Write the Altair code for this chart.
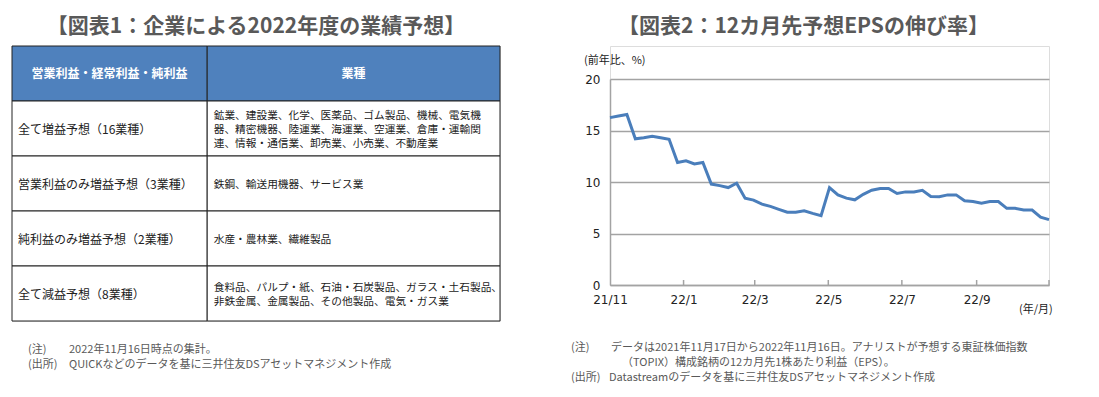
import altair as alt
import pandas as pd

FONT = "Noto Sans CJK JP"

# ---------------- Figure 1 : table ----------------
title1 = "【図表1：企業による2022年度の業績予想】"
row_ids = ["h", "r1", "r2", "r3", "r4"]
col1_texts = [
    "営業利益・経常利益・純利益",
    "全て増益予想（16業種）",
    "営業利益のみ増益予想（3業種）",
    "純利益のみ増益予想（2業種）",
    "全て減益予想（8業種）",
]
col2_texts = [
    "業種",
    "鉱業、建設業、化学、医薬品、ゴム製品、機械、電気機\n器、精密機器、陸運業、海運業、空運業、倉庫・運輸関\n連、情報・通信業、卸売業、小売業、不動産業",
    "鉄鋼、輸送用機器、サービス業",
    "水産・農林業、繊維製品",
    "食料品、パルプ・紙、石油・石炭製品、ガラス・土石製品、\n非鉄金属、金属製品、その他製品、電気・ガス業",
]
notes1 = [("(注)", "2022年11月16日時点の集計。"),
          ("(出所)", "QUICKなどのデータを基に三井住友DSアセットマネジメント作成")]

# ---------------- Figure 2 : line chart ----------------
title2 = "【図表2：12カ月先予想EPSの伸び率】"
start_date = "2021-11-17"
eps_growth = [
    16.25, 16.4, 16.55, 14.2, 14.3, 14.45, 14.3, 14.15, 11.9, 12.05,
    11.75, 11.9, 9.8, 9.65, 9.46, 9.88, 8.43, 8.24, 7.85, 7.63,
    7.35, 7.06, 7.06, 7.2, 6.95, 6.73, 9.46, 8.75, 8.43, 8.27,
    8.8, 9.2, 9.37, 9.37, 8.88, 9.04, 9.04, 9.2, 8.6, 8.56,
    8.75, 8.75, 8.17, 8.1, 7.95, 8.1, 8.1, 7.44, 7.44, 7.28,
    7.28, 6.58, 6.35,
]
label_dates = ["2021-11-17", "2022-01-17", "2022-03-17", "2022-05-17",
               "2022-07-17", "2022-09-17"]
tick_dates = ["2022-01-17", "2022-03-17", "2022-05-17", "2022-07-17",
              "2022-09-17", "2022-11-16"]
y_ticks = [0, 5, 10, 15, 20]
y_unit = "(前年比、%)"
x_unit = "(年/月)"
notes2 = [("(注)", "データは2021年11月17日から2022年11月16日。アナリストが予想する東証株価指数"),
          ("", "（TOPIX）構成銘柄の12カ月先1株あたり利益（EPS）。"),
          ("(出所)", "Datastreamのデータを基に三井住友DSアセットマネジメント作成")]

HEADER_BLUE = "#4F81BD"
LINE_BLUE = "#4A7EBB"
GRID = "#A3A3A3"
NOTE = "#595959"
LINE_H = 14


def dt(s):
    t = pd.Timestamp(s)
    return alt.DateTime(year=t.year, month=t.month, date=t.day)


def label(text, x, y, size=11, color=NOTE, align="left", weight="normal", font=FONT):
    return alt.Chart(pd.DataFrame({"t": [text]})).mark_text(
        align=align, baseline="middle", fontSize=size, color=color,
        fontWeight=weight, font=font
    ).encode(text="t:N", x=alt.value(x), y=alt.value(y))


# table data (columns in 2:3 width ratio)
cells = []
for i, r in enumerate(row_ids):
    cells.append({"row": r, "col": "c1", "text": col1_texts[i], "x0": 0, "x1": 2, "head": i == 0})
    cells.append({"row": r, "col": "c2", "text": col2_texts[i], "x0": 2, "x1": 5, "head": i == 0})
cells = pd.DataFrame(cells)
cells["xm"] = (cells["x0"] + cells["x1"]) / 2
cells["nlines"] = cells["text"].str.count("\n") + 1

xs = alt.Scale(domain=[0, 5], nice=False, zero=False)
ys = alt.Scale(domain=row_ids, paddingInner=0, paddingOuter=0)

base_t = alt.Chart(cells)
rects = base_t.mark_rect(stroke="#222", strokeWidth=1).encode(
    x=alt.X("x0:Q", scale=xs, axis=None),
    x2="x1:Q",
    y=alt.Y("row:N", scale=ys, axis=None, sort=row_ids),
    fill=alt.condition("datum.head", alt.value(HEADER_BLUE), alt.value("white")),
)
head_txt = base_t.transform_filter("datum.head").mark_text(
    align="center", baseline="middle", fontSize=12, fontWeight="bold",
    color="white", font=FONT
).encode(x=alt.X("xm:Q", scale=xs), y=alt.Y("row:N", scale=ys, sort=row_ids), text="text:N")
c1_txt = base_t.transform_filter("!datum.head && datum.col == 'c1'").mark_text(
    align="left", baseline="middle", fontSize=12, color="#222", font=FONT, dx=6, dy=1
).encode(x=alt.X("x0:Q", scale=xs), y=alt.Y("row:N", scale=ys, sort=row_ids), text="text:N")

c2_layers = []
for n in sorted(cells.loc[~cells["head"] & (cells["col"] == "c2"), "nlines"].unique()):
    c2_layers.append(
        base_t.transform_filter(f"!datum.head && datum.col == 'c2' && datum.nlines == {n}").mark_text(
            align="left", baseline="middle", fontSize=10.7, color="#222", font=FONT,
            dx=6.5, dy=1 - (n - 1) * LINE_H / 2, lineBreak="\n", lineHeight=LINE_H
        ).encode(x=alt.X("x0:Q", scale=xs), y=alt.Y("row:N", scale=ys, sort=row_ids), text="text:N")
    )

note_layers1 = []
for k, (a, b) in enumerate(notes1):
    yy = 304 + 15 * k
    note_layers1.append(label(a, 16, yy))
    note_layers1.append(label(b, 57, yy))

left = alt.layer(rects, head_txt, c1_txt, *c2_layers, *note_layers1).properties(
    width=488, height=275,
    title=alt.TitleParams(title1, fontSize=21, fontWeight="bold", color=NOTE,
                          anchor="middle", offset=9, font=FONT),
)

# line chart
line_df = pd.DataFrame({
    "date": pd.date_range(start_date, periods=len(eps_growth), freq="7D"),
    "eps": eps_growth,
})
tick_df = pd.DataFrame({"d": pd.to_datetime(tick_dates)})

H = 239
xsc = alt.Scale(domain=[dt(start_date), dt("2022-11-16")])
ysc = alt.Scale(domain=[0, 20], nice=False, range=[H, 33])

line = alt.Chart(line_df).mark_line(color=LINE_BLUE, strokeWidth=3).encode(
    x=alt.X("date:T", scale=xsc, title=None,
            axis=alt.Axis(values=[dt(d) for d in label_dates], format="%y/%-m",
                          ticks=False, grid=False, domainColor=GRID, domainWidth=1.5,
                          labelFont="DejaVu Sans", labelFontSize=12, labelColor="#222",
                          labelPadding=9, labelFlush=False)),
    y=alt.Y("eps:Q", scale=ysc, title=None,
            axis=alt.Axis(values=y_ticks, ticks=False, grid=True, gridColor=GRID,
                          gridWidth=1.5, domainColor=GRID, domainWidth=1.5,
                          labelFont="DejaVu Sans", labelFontSize=12, labelColor="#222",
                          labelPadding=10)),
)
ticks = alt.Chart(tick_df).mark_rule(color=GRID, strokeWidth=1.5).encode(
    x=alt.X("d:T", scale=xsc), y=alt.value(H), y2=alt.value(H - 5)
)

note_layers2 = []
for k, (a, b) in enumerate(notes2):
    yy = 302 + 15 * k
    if a:
        note_layers2.append(label(a, -39, yy))
        note_layers2.append(label(b, 1 if k == 0 else -1, yy))
    else:
        note_layers2.append(label(b, 12, yy))

right = alt.layer(
    line, ticks,
    label(y_unit, -26, 15, size=11, color="#222"),
    label(x_unit, 409, 264, size=11, color="#222"),
    *note_layers2,
).properties(
    width=439, height=H,
    title=alt.TitleParams(title2, fontSize=21, fontWeight="bold", color=NOTE,
                          anchor="middle", offset=9, dx=-26, font=FONT),
)

chart = alt.hconcat(left, right, spacing=110, bounds="flush").properties(
    padding={"left": 3, "top": 7, "right": 0, "bottom": 0}
).configure_view(stroke=None).configure(font=FONT)

chart.save("out.html", embed_options={"renderer": "svg", "actions": False})
